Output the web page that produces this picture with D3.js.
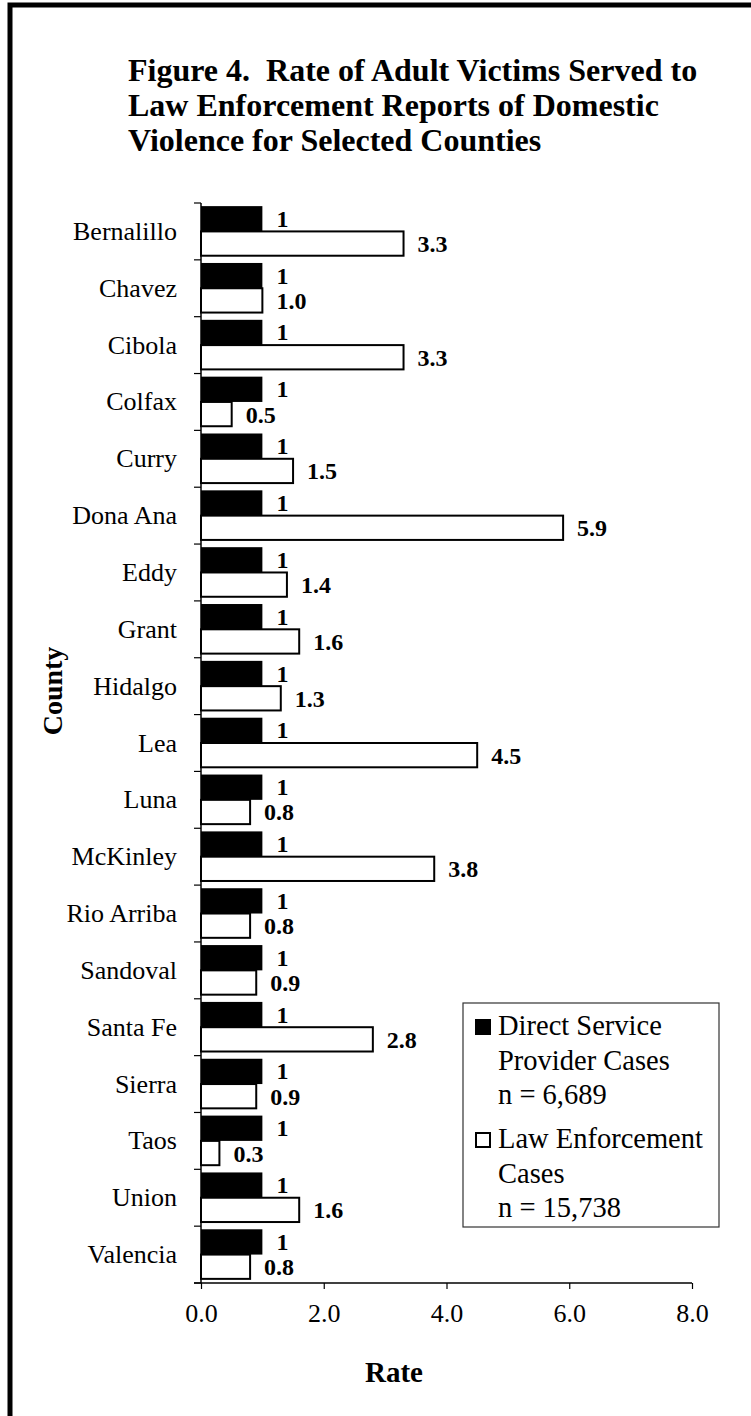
<!DOCTYPE html>
<html>
<head>
    <meta charset="utf-8">
    <title>Figure 4 - Rate of Adult Victims Served</title>
    <script src="https://d3js.org/d3.v7.min.js"></script>
    <style>
        html, body { margin: 0; background: #fff; }
        svg { display: block; background: #fff; }
        text { font-family: "Liberation Serif", "Times New Roman", serif; fill: #000; }
        .title { font-weight: bold; font-size: 32px; white-space: pre; }
        .cat { font-size: 26px; }
        .val { font-weight: bold; font-size: 24px; }
        .xaxis text { font-size: 26px; }
        .axisTitle { font-weight: bold; font-size: 29px; }
        .legend text { font-size: 28.5px; }
    </style>
</head>
<body>
<svg></svg>
<script>
    var counties = ["Bernalillo", "Chavez", "Cibola", "Colfax", "Curry", "Dona Ana", "Eddy", "Grant",
        "Hidalgo", "Lea", "Luna", "McKinley", "Rio Arriba", "Sandoval", "Santa Fe", "Sierra", "Taos",
        "Union", "Valencia"];
    var directService = [1, 1, 1, 1, 1, 1, 1, 1, 1, 1, 1, 1, 1, 1, 1, 1, 1, 1, 1];
    var lawEnforcement = [3.3, 1.0, 3.3, 0.5, 1.5, 5.9, 1.4, 1.6, 1.3, 4.5, 0.8, 3.8, 0.8, 0.9, 2.8,
        0.9, 0.3, 1.6, 0.8];
    var xTicks = [0, 2, 4, 6, 8];
    var titleLines = ["Figure 4.  Rate of Adult Victims Served to",
        "Law Enforcement Reports of Domestic",
        "Violence for Selected Counties"];
    var legendItems = [
        {key: "direct", lines: ["Direct Service", "Provider Cases", "n = 6,689"]},
        {key: "law", lines: ["Law Enforcement", "Cases", "n = 15,738"]}
    ];

    var width = 751, height = 1416;
    var svg = d3.select("svg").attr("width", width).attr("height", height);

    // frame (top and left only, the rest is cropped off)
    svg.append("path")
        .attr("d", "M10," + height + "V5H" + width)
        .attr("fill", "none")
        .attr("stroke", "#000")
        .attr("stroke-width", 5);

    svg.append("g").selectAll("text")
        .data(titleLines)
        .enter().append("text")
        .attr("class", "title")
        .attr("xml:space", "preserve")
        .attr("x", 128)
        .attr("y", (d, i) => 81 + i * 35)
        .text(d => d);

    var plot = {left: 201, right: 692, top: 203, bottom: 1283};

    var x = d3.scaleLinear().domain([0, 8]).range([plot.left, plot.right]);
    var y = d3.scaleBand().domain(counties).range([plot.top, plot.bottom])
        .paddingInner(0.11).paddingOuter(0.055);
    var sub = d3.scaleBand().domain(["direct", "law"]).range([0, y.bandwidth()]);

    var rows = counties.map((c, i) => ({county: c, direct: directService[i], law: lawEnforcement[i]}));

    var g = svg.append("g");

    // black bars
    g.selectAll("rect.direct")
        .data(rows)
        .enter().append("rect")
        .attr("class", "direct")
        .attr("x", x(0))
        .attr("y", d => y(d.county) + sub("direct"))
        .attr("width", d => x(d.direct) - x(0))
        .attr("height", sub.bandwidth())
        .attr("fill", "#000");

    // white bars
    g.selectAll("rect.law")
        .data(rows)
        .enter().append("rect")
        .attr("class", "law")
        .attr("x", x(0))
        .attr("y", d => y(d.county) + sub("law"))
        .attr("width", d => x(d.law) - x(0))
        .attr("height", sub.bandwidth() - 1)
        .attr("fill", "#fff")
        .attr("stroke", "#000")
        .attr("stroke-width", 2);

    // value labels
    g.selectAll("text.vd")
        .data(rows)
        .enter().append("text")
        .attr("class", "val")
        .attr("x", d => x(d.direct) + 14)
        .attr("y", d => y(d.county) + sub("direct") + sub.bandwidth() / 2 + 8)
        .text(d => d3.format("d")(d.direct));

    g.selectAll("text.vl")
        .data(rows)
        .enter().append("text")
        .attr("class", "val")
        .attr("x", d => x(d.law) + 14)
        .attr("y", d => y(d.county) + sub("law") + sub.bandwidth() / 2 + 8)
        .text(d => d3.format(".1f")(d.law));

    // y axis: line, boundary ticks, labels
    var step = y.step();
    var yAxis = svg.append("g");
    yAxis.append("line")
        .attr("x1", plot.left).attr("x2", plot.left)
        .attr("y1", plot.top).attr("y2", plot.bottom)
        .attr("stroke", "#000").attr("stroke-width", 1.5);
    yAxis.selectAll("line.tick")
        .data(d3.range(counties.length + 1))
        .enter().append("line")
        .attr("x1", plot.left - 7).attr("x2", plot.left)
        .attr("y1", i => plot.top + i * step)
        .attr("y2", i => plot.top + i * step)
        .attr("stroke", "#000").attr("stroke-width", 1.2);
    yAxis.selectAll("text")
        .data(counties)
        .enter().append("text")
        .attr("class", "cat")
        .attr("text-anchor", "end")
        .attr("x", 177)
        .attr("y", d => y(d) + y.bandwidth() / 2 + 8.5)
        .text(d => d);

    // x axis
    var xAxis = svg.append("g")
        .attr("class", "xaxis")
        .attr("transform", "translate(0," + plot.bottom + ")")
        .call(d3.axisBottom(x).tickValues(xTicks).tickFormat(d3.format(".1f"))
            .tickSize(6).tickSizeOuter(0).tickPadding(14));
    xAxis.select(".domain").attr("stroke", "#000").attr("stroke-width", 1.5)
        .attr("d", "M" + (plot.left - 7) + ",0H" + plot.right);
    xAxis.selectAll(".tick line").attr("stroke", "#000").attr("stroke-width", 1.2);
    xAxis.selectAll(".tick text")
        .attr("font-family", null).attr("font-size", null)
        .attr("dy", null).attr("y", 39);

    svg.append("text")
        .attr("class", "axisTitle")
        .attr("text-anchor", "middle")
        .attr("x", 394)
        .attr("y", 1382)
        .text("Rate");

    svg.append("text")
        .attr("class", "axisTitle")
        .attr("text-anchor", "middle")
        .style("font-size", "28px")
        .attr("transform", "translate(62,691) rotate(-90)")
        .text("County");

    // legend
    var legend = svg.append("g").attr("class", "legend");
    legend.append("rect")
        .attr("x", 463).attr("y", 1003)
        .attr("width", 256).attr("height", 224)
        .attr("fill", "#fff").attr("stroke", "#333").attr("stroke-width", 1.2);

    var entryTop = [1035, 1148];
    legendItems.forEach(function(item, k) {
        var base = entryTop[k];
        legend.append("rect")
            .attr("x", item.key === "direct" ? 475 : 476)
            .attr("y", base - (item.key === "direct" ? 16 : 15))
            .attr("width", item.key === "direct" ? 16 : 14)
            .attr("height", item.key === "direct" ? 16 : 14)
            .attr("fill", item.key === "direct" ? "#000" : "#fff")
            .attr("stroke", "#000")
            .attr("stroke-width", item.key === "direct" ? 0 : 2);
        legend.selectAll(null)
            .data(item.lines)
            .enter().append("text")
            .attr("x", 498)
            .attr("y", (d, i) => base + i * 34.5)
            .text(d => d);
    });
</script>
</body>
</html>
